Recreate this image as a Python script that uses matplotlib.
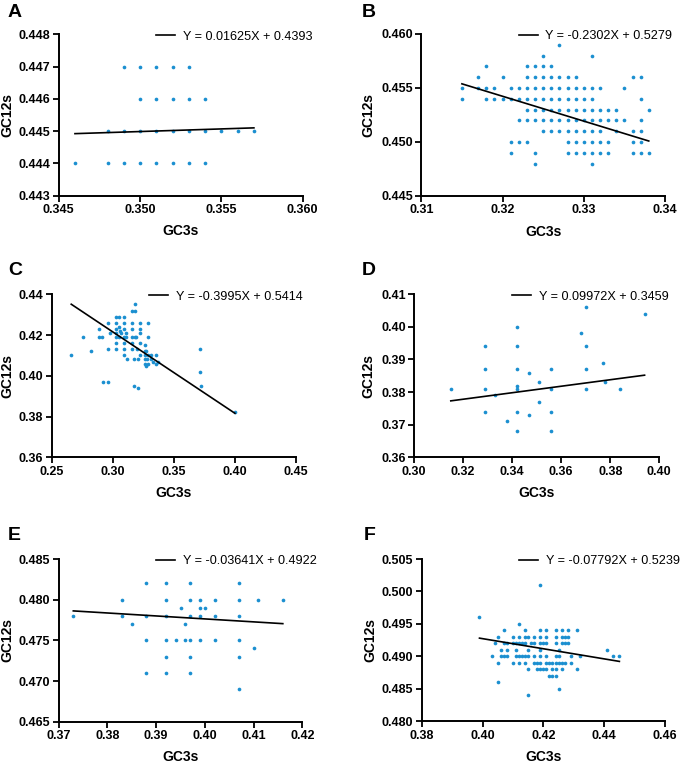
import numpy as np
import matplotlib
matplotlib.use("Agg")
import matplotlib.pyplot as plt

plt.rcParams["font.family"] = ["Liberation Sans", "DejaVu Sans"]

DOT = "#1b8fd0"

# ---- panel A (rows of equal GC12s)
a_levels = [0.447, 0.446, 0.445, 0.444]
a_rows = [
    [0.349, 0.350, 0.351, 0.352, 0.353],
    [0.350, 0.351, 0.352, 0.353, 0.354],
    [0.348, 0.349, 0.350, 0.351, 0.352, 0.353, 0.354, 0.355, 0.356, 0.357],
    [0.346, 0.348, 0.349, 0.350, 0.351, 0.352, 0.353, 0.354],
]

# ---- panel B
b_levels = [0.459, 0.458, 0.457, 0.456, 0.455, 0.454, 0.453, 0.452,
            0.451, 0.450, 0.449, 0.448]
b_rows = [
    [0.327],
    [0.325, 0.331],
    [0.318, 0.323, 0.324, 0.325, 0.326],
    [0.317, 0.320, 0.323, 0.324, 0.325, 0.326, 0.327, 0.328, 0.329, 0.336, 0.337],
    [0.315, 0.317, 0.318, 0.319, 0.321, 0.322, 0.323, 0.324, 0.325, 0.326,
     0.327, 0.328, 0.329, 0.330, 0.331, 0.332, 0.335],
    [0.315, 0.318, 0.319, 0.320, 0.321, 0.322, 0.323, 0.324, 0.325, 0.326,
     0.327, 0.328, 0.329, 0.330, 0.331, 0.337],
    [0.323, 0.324, 0.325, 0.326, 0.327, 0.328, 0.329, 0.330, 0.331, 0.332,
     0.333, 0.334, 0.338],
    [0.322, 0.323, 0.324, 0.325, 0.326, 0.327, 0.328, 0.329, 0.330, 0.331,
     0.332, 0.333, 0.334, 0.335, 0.337],
    [0.325, 0.326, 0.327, 0.328, 0.329, 0.330, 0.331, 0.332, 0.334, 0.336, 0.337],
    [0.321, 0.322, 0.323, 0.328, 0.329, 0.330, 0.331, 0.332, 0.333, 0.336, 0.337],
    [0.321, 0.324, 0.328, 0.329, 0.330, 0.331, 0.332, 0.333, 0.336, 0.337, 0.338],
    [0.324, 0.331],
]

# ---- panel C
c_x = [0.266, 0.276, 0.282, 0.289, 0.289, 0.291, 0.292, 0.296, 0.296, 0.296, 0.298,
       0.318, 0.316, 0.318, 0.303, 0.305, 0.309,
       0.303, 0.309, 0.316, 0.322, 0.329,
       0.303, 0.305, 0.306, 0.309, 0.316, 0.322,
       0.303, 0.307, 0.311, 0.322,
       0.303, 0.305, 0.309, 0.311, 0.316, 0.318, 0.319, 0.329,
       0.303, 0.309, 0.316, 0.322, 0.326,
       0.303, 0.309, 0.316, 0.320, 0.326, 0.327,
       0.309, 0.322, 0.326, 0.329, 0.331, 0.335,
       0.312, 0.317, 0.321, 0.326, 0.328, 0.331,
       0.326, 0.327, 0.329, 0.333, 0.335, 0.337,
       0.317, 0.321, 0.371, 0.371, 0.372, 0.400]
c_y = [0.410, 0.419, 0.412, 0.423, 0.419, 0.419, 0.397, 0.397, 0.426, 0.413, 0.421,
       0.435, 0.432, 0.432, 0.429, 0.429, 0.429,
       0.426, 0.426, 0.426, 0.426, 0.426,
       0.423, 0.424, 0.422, 0.423, 0.423, 0.423,
       0.421, 0.421, 0.421, 0.421,
       0.419, 0.419, 0.419, 0.419, 0.419, 0.419, 0.419, 0.419,
       0.416, 0.416, 0.416, 0.416, 0.415,
       0.413, 0.413, 0.413, 0.413, 0.412, 0.412,
       0.410, 0.410, 0.410, 0.410, 0.410, 0.410,
       0.408, 0.408, 0.408, 0.408, 0.408, 0.408,
       0.406, 0.405, 0.406, 0.407, 0.406, 0.407,
       0.395, 0.394, 0.413, 0.402, 0.395, 0.382]

# ---- panel D
d_x = [0.315, 0.329, 0.329, 0.329, 0.329, 0.333, 0.338,
       0.342, 0.342, 0.342, 0.342, 0.342, 0.342, 0.342,
       0.347, 0.347, 0.351, 0.351, 0.356, 0.356, 0.356, 0.356,
       0.368, 0.370, 0.370, 0.370, 0.370, 0.377, 0.378, 0.384, 0.394]
d_y = [0.381, 0.394, 0.387, 0.381, 0.374, 0.379, 0.371,
       0.400, 0.394, 0.387, 0.382, 0.381, 0.374, 0.368,
       0.386, 0.373, 0.383, 0.377, 0.387, 0.381, 0.374, 0.368,
       0.398, 0.406, 0.394, 0.387, 0.381, 0.389, 0.383, 0.381, 0.404]

# ---- panel E
e_levels = [0.482, 0.480, 0.479, 0.478, 0.477, 0.475, 0.474, 0.473, 0.471, 0.469]
e_rows = [
    [0.388, 0.392, 0.397, 0.407],
    [0.383, 0.392, 0.397, 0.399, 0.402, 0.407, 0.411, 0.416],
    [0.395, 0.399, 0.400],
    [0.373, 0.383, 0.388, 0.392, 0.397, 0.399, 0.402, 0.407],
    [0.385, 0.396],
    [0.388, 0.392, 0.394, 0.396, 0.397, 0.399, 0.402, 0.407],
    [0.410],
    [0.392, 0.397, 0.407],
    [0.388, 0.392, 0.397],
    [0.407],
]

# ---- panel F
f_levels = [0.501, 0.496, 0.495, 0.494, 0.493, 0.492, 0.491, 0.490,
            0.489, 0.488, 0.487, 0.486, 0.485, 0.484]
f_rows = [
    [0.419],
    [0.399],
    [0.412],
    [0.407, 0.414, 0.419, 0.421, 0.424, 0.426, 0.428, 0.431],
    [0.405, 0.410, 0.412, 0.414, 0.415, 0.417, 0.419, 0.421, 0.424, 0.426,
     0.427, 0.428],
    [0.404, 0.407, 0.408, 0.410, 0.411, 0.412, 0.413, 0.414, 0.416, 0.417,
     0.419, 0.420, 0.421, 0.424, 0.426, 0.427, 0.428],
    [0.406, 0.408, 0.411, 0.415, 0.419, 0.425, 0.441],
    [0.403, 0.406, 0.407, 0.408, 0.411, 0.412, 0.413, 0.414, 0.415, 0.417,
     0.419, 0.421, 0.424, 0.425, 0.429, 0.432, 0.443, 0.445],
    [0.405, 0.410, 0.412, 0.414, 0.417, 0.418, 0.419, 0.421, 0.422, 0.423,
     0.424, 0.425, 0.426, 0.427, 0.429],
    [0.415, 0.418, 0.419, 0.420, 0.421, 0.423, 0.424, 0.426, 0.431],
    [0.422, 0.423, 0.424],
    [0.405],
    [0.425],
    [0.415],
]

# regression lines (slope, intercept) as printed on the figure
fits = {"A": (0.01625, 0.4393), "B": (-0.2302, 0.5279), "C": (-0.3995, 0.5414),
        "D": (0.09972, 0.3459), "E": (-0.03641, 0.4922), "F": (-0.07792, 0.5239)}
fit_labels = {"A": "Y = 0.01625X + 0.4393", "B": "Y = -0.2302X + 0.5279",
              "C": "Y = -0.3995X + 0.5414", "D": "Y = 0.09972X + 0.3459",
              "E": "Y = -0.03641X + 0.4922", "F": "Y = -0.07792X + 0.5239"}


def expand(levels, rows):
    xs, ys = [], []
    for lv, row in zip(levels, rows):
        xs += row
        ys += [lv] * len(row)
    return np.array(xs), np.array(ys)


data = {
    "A": expand(a_levels, a_rows),
    "B": expand(b_levels, b_rows),
    "C": (np.array(c_x), np.array(c_y)),
    "D": (np.array(d_x), np.array(d_y)),
    "E": expand(e_levels, e_rows),
    "F": expand(f_levels, f_rows),
}

W, H = 685, 763
# axes boxes in pixels: left, top, right, bottom
boxes = {"A": (58.7, 34.3, 302.7, 195.7), "B": (421.3, 34.0, 665.0, 196.0),
         "C": (51.7, 294.3, 296.0, 457.3), "D": (414.0, 294.3, 659.3, 457.3),
         "E": (58.7, 559.0, 302.3, 721.7), "F": (421.7, 559.0, 665.0, 721.3)}
xticks = {"A": [0.345, 0.350, 0.355, 0.360], "B": [0.31, 0.32, 0.33, 0.34],
          "C": [0.25, 0.30, 0.35, 0.40, 0.45], "D": [0.30, 0.32, 0.34, 0.36, 0.38, 0.40],
          "E": [0.37, 0.38, 0.39, 0.40, 0.41, 0.42], "F": [0.38, 0.40, 0.42, 0.44, 0.46]}
yticks = {"A": [0.443, 0.444, 0.445, 0.446, 0.447, 0.448],
          "B": [0.445, 0.450, 0.455, 0.460],
          "C": [0.36, 0.38, 0.40, 0.42, 0.44],
          "D": [0.36, 0.37, 0.38, 0.39, 0.40, 0.41],
          "E": [0.465, 0.470, 0.475, 0.480, 0.485],
          "F": [0.480, 0.485, 0.490, 0.495, 0.500, 0.505]}
xfmt = {"A": "{:.3f}", "B": "{:.2f}", "C": "{:.2f}", "D": "{:.2f}", "E": "{:.2f}", "F": "{:.2f}"}
yfmt = {"A": "{:.3f}", "B": "{:.3f}", "C": "{:.2f}", "D": "{:.2f}", "E": "{:.3f}", "F": "{:.3f}"}
# x centre of the "GC12s" label, in pixels
ylabel_x = {"A": 7, "B": 368, "C": 7, "D": 368, "E": 7, "F": 370}
letter_pos = {"A": (8, 4), "B": (362, 4), "C": (8, 262), "D": (362, 262),
              "E": (8, 527), "F": (364, 527)}

fig = plt.figure(figsize=(W / 100, H / 100), dpi=100)

for key in "ABCDEF":
    l, t, r, b = boxes[key]
    ax = fig.add_axes([l / W, 1 - b / H, (r - l) / W, (b - t) / H])
    x, y = data[key]
    ax.scatter(x, y, s=7, color=DOT, linewidths=0, zorder=3, clip_on=False)
    m, c = fits[key]
    xl = np.array([x.min(), x.max()])
    ax.plot(xl, m * xl + c, color="black", lw=1.2, zorder=4,
            label=fit_labels[key])

    xt, yt = xticks[key], yticks[key]
    ax.set_xlim(xt[0], xt[-1])
    ax.set_ylim(yt[0], yt[-1])
    ax.set_xticks(xt)
    ax.set_yticks(yt)
    ax.set_xticklabels([xfmt[key].format(v) for v in xt], fontweight="bold")
    ax.set_yticklabels([yfmt[key].format(v) for v in yt], fontweight="bold")
    ax.tick_params(labelsize=9, length=4, width=1.3, pad=2, colors="black")

    for s in ("top", "right"):
        ax.spines[s].set_visible(False)
    for s in ("left", "bottom"):
        ax.spines[s].set_linewidth(1.4)

    ax.set_xlabel("GC3s", fontsize=10, fontweight="bold", labelpad=6)
    ax.set_ylabel("GC12s", fontsize=10, fontweight="bold", va="center")
    ax.yaxis.set_label_coords((ylabel_x[key] - l) / (r - l), 0.5)

    ax.legend(loc="center left", bbox_to_anchor=(0.40, 0.985), frameon=False,
              fontsize=9.1, handlelength=1.5, handletextpad=0.6,
              borderpad=0, borderaxespad=0)

    lx, ly = letter_pos[key]
    fig.text(lx / W, 1 - ly / H, key, fontsize=14, fontweight="bold",
             ha="left", va="top")

fig.savefig("out.png", dpi=100)
